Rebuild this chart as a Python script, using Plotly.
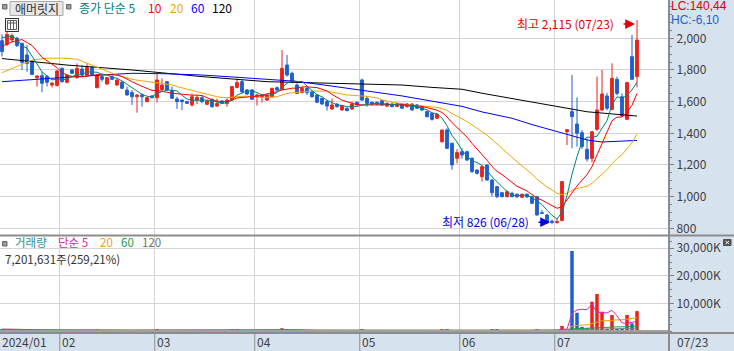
import plotly.graph_objects as go
import pandas as pd

# ======================= DATA =======================
month_labels = ["2024/01", "02", "03", "04", "05", "06", "07"]
month_start_idx = [0, 12, 31, 51, 72, 92, 111]
last_date_label = "07/23"
high_date = "07/23"
low_date = "06/28"

opens = [1985, 1962, 1990, 2000, 1968, 1895, 1857, 1751, 1764, 1758, 1705, 1701,
         1810, 1722, 1800, 1751, 1806, 1768, 1815, 1688, 1758, 1711, 1758, 1705, 1722, 1673, 1657, 1631, 1642, 1600, 1636,
         1625, 1674, 1726, 1669, 1617, 1610, 1600, 1579, 1610, 1625, 1583, 1615, 1572, 1604, 1589, 1610, 1690, 1726, 1674, 1674,
         1631, 1631, 1610, 1631, 1688, 1678, 1831, 1779, 1705, 1657, 1684, 1663, 1642, 1621, 1600, 1554, 1585, 1547, 1558, 1554, 1596,
         1737, 1621, 1596, 1596, 1606, 1572, 1585, 1570, 1585, 1568, 1585, 1579, 1568, 1537, 1526, 1495, 1347, 1421, 1337, 1242,
         1284, 1284, 1242, 1168, 1126, 1200, 1105, 1063, 1025, 1000, 1021, 1015, 996, 1015, 1000, 1000, 898, 884, 845,
         836, 850, 1410, 1537, 1459, 1404, 1299, 1242, 1425, 1547, 1636, 1551, 1741, 1631, 1488, 1884, 1758]
highs = [2025, 2040, 2030, 2010, 1972, 1958, 1862, 1765, 1789, 1768, 1726, 1800,
         1815, 1772, 1805, 1842, 1831, 1842, 1825, 1772, 1768, 1755, 1762, 1741, 1730, 1695, 1674, 1646, 1652, 1630, 1640,
         1775, 1747, 1730, 1695, 1631, 1612, 1605, 1652, 1640, 1640, 1610, 1620, 1620, 1608, 1620, 1695, 1747, 1737, 1680, 1680,
         1650, 1648, 1648, 1688, 1695, 1926, 1895, 1789, 1716, 1695, 1695, 1668, 1648, 1625, 1610, 1620, 1590, 1580, 1562, 1600, 1600,
         1745, 1631, 1600, 1600, 1610, 1595, 1590, 1592, 1590, 1592, 1590, 1585, 1575, 1542, 1530, 1525, 1421, 1432, 1340, 1300,
         1305, 1290, 1248, 1172, 1200, 1205, 1110, 1068, 1030, 1040, 1031, 1020, 1018, 1020, 1005, 1003, 915, 890, 855,
         860, 1095, 1423, 1768, 1627, 1420, 1368, 1410, 1758, 1800, 1655, 1842, 1758, 1652, 1725, 2021, 2115]
lows = [1885, 1950, 1975, 1945, 1800, 1789, 1768, 1695, 1659, 1695, 1690, 1697,
        1720, 1716, 1775, 1747, 1764, 1764, 1764, 1685, 1726, 1707, 1735, 1700, 1680, 1638, 1579, 1530, 1568, 1597, 1620,
        1594, 1670, 1670, 1617, 1554, 1547, 1585, 1568, 1585, 1590, 1578, 1562, 1568, 1585, 1568, 1605, 1684, 1652, 1642, 1610,
        1575, 1594, 1605, 1627, 1667, 1674, 1758, 1720, 1648, 1652, 1642, 1625, 1590, 1580, 1543, 1547, 1562, 1543, 1540, 1547, 1575,
        1605, 1568, 1580, 1578, 1575, 1565, 1565, 1565, 1555, 1562, 1545, 1555, 1540, 1500, 1480, 1490, 1340, 1300, 1170, 1210,
        1240, 1225, 1150, 1140, 1095, 1100, 1000, 990, 995, 995, 995, 995, 994, 993, 955, 880, 893, 831, 826,
        830, 845, 1326, 1305, 1316, 1300, 1221, 1215, 1415, 1540, 1545, 1545, 1640, 1505, 1484, 1737, 1690]
closes = [1916, 2025, 2017, 1954, 1848, 1842, 1772, 1762, 1716, 1722, 1716, 1794,
          1726, 1768, 1779, 1810, 1768, 1815, 1768, 1768, 1741, 1751, 1741, 1737, 1684, 1642, 1631, 1642, 1631, 1625, 1625,
          1737, 1705, 1674, 1621, 1600, 1600, 1589, 1631, 1627, 1600, 1604, 1568, 1589, 1589, 1610, 1695, 1720, 1663, 1648, 1615,
          1642, 1642, 1642, 1684, 1674, 1810, 1768, 1726, 1652, 1684, 1657, 1631, 1596, 1585, 1572, 1579, 1568, 1575, 1543, 1585, 1579,
          1610, 1589, 1583, 1583, 1579, 1589, 1568, 1585, 1558, 1585, 1547, 1558, 1547, 1505, 1488, 1520, 1421, 1305, 1200, 1278,
          1263, 1231, 1158, 1147, 1189, 1105, 1025, 1000, 1000, 1031, 1000, 998, 1015, 998, 958, 884, 895, 835, 838,
          842, 1095, 1423, 1505, 1400, 1316, 1238, 1410, 1547, 1648, 1558, 1747, 1652, 1509, 1720, 1741, 1989]
volumes = [600000, 700000, 500000, 450000, 500000, 400000, 350000, 250000, 300000, 250000, 200000, 300000,
           300000, 200000, 150000, 250000, 200000, 250000, 200000, 500000, 200000, 180000, 150000, 160000, 200000, 250000, 220000, 280000, 180000, 150000, 120000,
           500000, 300000, 200000, 200000, 200000, 180000, 150000, 250000, 200000, 150000, 150000, 200000, 150000, 120000, 150000, 450000, 450000, 250000, 150000, 180000,
           150000, 140000, 150000, 250000, 150000, 1000000, 600000, 350000, 250000, 200000, 180000, 200000, 220000, 200000, 250000, 180000, 150000, 160000, 130000, 180000, 140000,
           500000, 200000, 150000, 130000, 150000, 120000, 130000, 120000, 130000, 120000, 150000, 130000, 150000, 200000, 220000, 180000, 500000, 500000, 350000, 250000,
           200000, 250000, 300000, 200000, 250000, 250000, 400000, 400000, 200000, 150000, 150000, 150000, 120000, 150000, 200000, 400000, 250000, 300000, 300000,
           300000, 1800000, 500000, 29000000, 6600000, 1500000, 1000000, 10600000, 13400000, 7000000, 700000, 5800000, 700000, 700000, 5800000, 2778300, 7201631]

ma5_head_x = [0, 1, 2, 3]
ma5_head_y = [2005, 2010, 2012, 1995]
ma10_head_x = [0, 2, 4, 6, 8]
ma10_head_y = [1950, 1978, 1992, 1955, 1880]
ma20_head_x = [0, 3, 6, 9, 12, 15, 18]
ma20_head_y = [1783, 1825, 1862, 1874, 1875, 1868, 1830]
ma60_x = [0, 6, 13, 20, 26, 33, 40, 46, 53, 59, 66, 73, 80, 86, 92, 96, 102, 106, 112, 117, 120, 127]
ma60_y = [1726, 1741, 1754, 1768, 1779, 1776, 1768, 1756, 1742, 1728, 1698, 1668, 1636, 1603, 1570, 1535,
          1495, 1455, 1400, 1358, 1345, 1355]
ma120_x = [0, 13, 26, 40, 53, 66, 80, 86, 92, 96, 102, 106, 112, 117, 127]
ma120_y = [1872, 1831, 1800, 1758, 1726, 1716, 1705, 1690, 1678, 1653, 1621, 1600, 1564, 1536, 1509]

price_ticks = [800, 1000, 1200, 1400, 1600, 1800, 2000]
vol_ticks = [10000000, 20000000, 30000000]
vol_tick_text = ["10,000K", "20,000K", "30,000K"]
lc_text = "LC:140,44"
hc_text = "HC:-6,10"

# ======================= STYLE / GEOMETRY =======================
FONT = "Noto Sans CJK KR"
LAT = "Liberation Sans"
RED = "#e8231b"
BLUE = "#1f5fcf"
C_MA5, C_MA10, C_MA20, C_MA60, C_MA120 = "#008080", "#ff0000", "#f0a800", "#0000ff", "#000000"
C_VMA5, C_VMA20, C_VMA60, C_VMA120 = "#e020c0", "#f0a000", "#14a040", "#808080"
GRID = "#d4d4d4"
PANEL = "#d7e2ef"
DIV = "#8c8c8c"

W, H = 734, 351
PLOT_R = 668
PRICE_BOT = 235
VOL_TOP = 236
VOL_BOT = 333


def px(x):
    return x / W


def py(y):
    return 1 - y / H


def price_at(y):
    return 2000 - (y - 38.3) * 1200 / 190.0


def vol_at(y):
    return (331 - y) * 1e7 / 27.6


def idx_at(x):
    return (x - 2) / 5.0


N = len(closes)
xs = list(range(N))
c = pd.Series(closes, dtype=float)
v = pd.Series(volumes, dtype=float)

ma5_x = ma5_head_x + xs[4:]
ma5_y = ma5_head_y + c.rolling(5).mean().iloc[4:].tolist()
ma10_x = ma10_head_x + xs[9:]
ma10_y = ma10_head_y + c.rolling(10).mean().iloc[9:].tolist()
ma20_x = ma20_head_x + xs[19:]
ma20_y = ma20_head_y + c.rolling(20).mean().iloc[19:].tolist()

fig = go.Figure()

for mx, my, col in [(ma120_x, ma120_y, C_MA120), (ma60_x, ma60_y, C_MA60), (ma20_x, ma20_y, C_MA20),
                    (ma10_x, ma10_y, C_MA10), (ma5_x, ma5_y, C_MA5)]:
    fig.add_trace(go.Scatter(x=mx, y=my, mode="lines", line=dict(color=col, width=1),
                             hoverinfo="skip", xaxis="x", yaxis="y"))

fig.add_trace(go.Candlestick(
    x=xs, open=opens, high=highs, low=lows, close=closes,
    increasing=dict(line=dict(color=RED, width=1), fillcolor=RED),
    decreasing=dict(line=dict(color=BLUE, width=1), fillcolor=BLUE),
    whiskerwidth=0, xaxis="x", yaxis="y", hoverinfo="skip"))

bar_colors = [RED if cl >= op else BLUE for op, cl in zip(opens, closes)]
fig.add_trace(go.Bar(x=xs, y=volumes, marker=dict(color=bar_colors, line=dict(width=0)),
                     width=0.7, xaxis="x2", yaxis="y2", hoverinfo="skip"))
for w_, col in [(120, C_VMA120), (60, C_VMA60), (20, C_VMA20), (5, C_VMA5)]:
    fig.add_trace(go.Scatter(x=xs, y=v.rolling(w_, min_periods=1).mean().tolist(), mode="lines",
                             line=dict(color=col, width=1), hoverinfo="skip", xaxis="x2", yaxis="y2"))

grid_x = [s - 0.45 for s in month_start_idx[1:]]
xcommon = dict(domain=[0, px(PLOT_R)], range=[idx_at(0), idx_at(PLOT_R)], tickmode="array",
               tickvals=grid_x, showticklabels=False, ticks="", showgrid=True, gridcolor=GRID,
               gridwidth=1, zeroline=False, showline=False, fixedrange=True)

fig.update_layout(
    width=W, height=H, margin=dict(l=0, r=0, t=0, b=0, pad=0),
    paper_bgcolor="white", plot_bgcolor="white", showlegend=False, boxgap=0.2,
    font=dict(family=FONT, size=12, color="#404040"),
    xaxis=dict(anchor="y", rangeslider=dict(visible=False), **xcommon),
    xaxis2=dict(anchor="y2", matches="x", **xcommon),
    yaxis=dict(domain=[py(PRICE_BOT), 1], range=[price_at(PRICE_BOT), price_at(0)], side="right",
               anchor="x", tickmode="array", tickvals=price_ticks,
               ticktext=[f"{t:,}" for t in price_ticks], ticks="outside", ticklen=5,
               tickcolor="#808080", showgrid=True, gridcolor=GRID, zeroline=False, showline=False,
               tickfont=dict(family=FONT, size=12, color="#404040"),
               minor=dict(tickmode="linear", tick0=800, dtick=50, ticks="outside", ticklen=3,
                          tickcolor="#808080", showgrid=False)),
    yaxis2=dict(domain=[py(VOL_BOT), py(VOL_TOP)], range=[vol_at(VOL_BOT), vol_at(VOL_TOP)],
                side="right", anchor="x2", tickmode="array", tickvals=vol_ticks, ticktext=vol_tick_text,
                ticks="outside", ticklen=5, tickcolor="#808080", showgrid=True, gridcolor=GRID,
                zeroline=False, showline=False, tickfont=dict(family=FONT, size=12, color="#404040"),
                minor=dict(tickmode="linear", tick0=0, dtick=2500000, ticks="outside", ticklen=3,
                           tickcolor="#808080", showgrid=False)),
)

shapes = []
# side / bottom panels
shapes.append(dict(type="rect", xref="paper", yref="paper", x0=px(PLOT_R), x1=1, y0=0, y1=1,
                   fillcolor=PANEL, line=dict(width=0), layer="below"))
shapes.append(dict(type="rect", xref="paper", yref="paper", x0=0, x1=1, y0=0, y1=py(VOL_BOT),
                   fillcolor=PANEL, line=dict(width=0), layer="below"))
# dividers in the date band
for gx in grid_x:
    shapes.append(dict(type="line", xref="x", yref="paper", x0=gx, x1=gx, y0=0, y1=py(VOL_BOT),
                       line=dict(color="#909090", width=1)))
# volume baseline
shapes.append(dict(type="line", xref="paper", yref="y2", x0=0, x1=px(PLOT_R), y0=0, y1=0,
                   line=dict(color="#a0a0a0", width=2)))
# frame dividers
shapes.append(dict(type="line", xref="paper", yref="paper", x0=px(PLOT_R + 1), x1=px(PLOT_R + 1),
                   y0=0, y1=1, line=dict(color=DIV, width=2)))
shapes.append(dict(type="line", xref="paper", yref="paper", x0=0, x1=1, y0=py(PRICE_BOT + 0.5),
                   y1=py(PRICE_BOT + 0.5), line=dict(color=DIV, width=2)))
shapes.append(dict(type="line", xref="paper", yref="paper", x0=0, x1=1, y0=py(VOL_BOT),
                   y1=py(VOL_BOT), line=dict(color=DIV, width=2)))


def prect(x0, y0, x1, y1, fill, line_col, lw=1):
    return dict(type="rect", xref="paper", yref="paper", x0=px(x0), x1=px(x1), y0=py(y1), y1=py(y0),
                fillcolor=fill, line=dict(color=line_col, width=lw))


def pline(x0, y0, x1, y1, col, lw=1):
    return dict(type="line", xref="paper", yref="paper", x0=px(x0), x1=px(x1), y0=py(y0), y1=py(y1),
                line=dict(color=col, width=lw))


# legend bullets / button / icons
shapes.append(prect(2.5, 4.5, 7, 9, "#9a9a9a", "#6a6a6a"))
shapes.append(prect(10, 1.5, 63, 15.5, "#e8e8e8", "#a8a8a8"))
shapes.append(prect(66.5, 4.5, 71, 9, "#9a9a9a", "#6a6a6a"))
shapes.append(prect(5.5, 18.5, 18.5, 31.5, "#f4f4f4", "#303030"))
shapes.append(prect(7.5, 20.5, 16.5, 29.5, "#ffffff", "#606060"))
shapes.append(pline(7.5, 23, 16.5, 23, "#606060"))
shapes.append(pline(10.5, 20.5, 10.5, 29.5, "#606060"))
shapes.append(pline(13.5, 20.5, 13.5, 29.5, "#606060"))
shapes.append(prect(2.5, 241.5, 7, 246, "#9a9a9a", "#6a6a6a"))
shapes.append(prect(723.5, 239.5, 731, 245.5, "#505050", "#505050"))
shapes.append(pline(725.5, 241, 729, 244, "#ffffff"))
shapes.append(pline(725.5, 244, 729, 241, "#ffffff"))
fig.update_layout(shapes=shapes)

ann = []


def ptext(x, y, text, color, anchor="left", size=12, family=FONT):
    ann.append(dict(xref="paper", yref="paper", x=px(x), y=py(y), text=text, showarrow=False,
                    xanchor=anchor, yanchor="middle", font=dict(family=family, size=size, color=color)))


ptext(36.5, 8.5, "애머릿지", "#303030", anchor="center")
ptext(77, 7.5, "종가 단순 5", C_MA5)
ptext(146, 7.5, "10", C_MA10)
ptext(168, 7.5, "20", C_MA20)
ptext(189, 7.5, "60", C_MA60)
ptext(210, 7.5, "120", C_MA120)
ptext(13, 242, "거래량", "#2f8f8f", size=11.5)
ptext(56, 242, "단순 5", C_VMA5, size=11.5)
ptext(98, 242, "20", C_VMA20, size=11.5)
ptext(119, 242, "60", C_VMA60, size=11.5)
ptext(140, 242, "120", "#707070", size=11.5)
ratio = volumes[-1] / volumes[-2] * 100
ptext(3, 259, f"{volumes[-1]:,}주({ratio:.2f}%)".replace(".", ","), "#303030", size=11.5)
ptext(669, 6, lc_text, "#e00000", family=LAT, size=12)
ptext(669, 20, hc_text, "#1464d2", family=LAT, size=12)

# date labels in the bottom band
for lab, s in zip(month_labels, month_start_idx):
    xpos = idx_at(0) if s == 0 else s - 0.35
    ann.append(dict(xref="x", yref="paper", x=xpos, y=py(341), text=lab, showarrow=False,
                    xanchor="left", yanchor="middle", font=dict(family=FONT, size=12, color="#404040")))
ptext(675, 341, last_date_label, "#404040")

# highest / lowest markers
hi = max(range(N), key=lambda i: highs[i])
lo = min(range(N), key=lambda i: lows[i])
ann.append(dict(xref="x", yref="y", x=hi, y=highs[hi], text=f"최고 {highs[hi]:,} ({high_date})",
                showarrow=False, xanchor="right", yanchor="middle", xshift=-21, yshift=-3,
                font=dict(family=FONT, size=12, color="#e00000")))
ann.append(dict(xref="x", yref="y", x=hi, y=highs[hi], text="", showarrow=True, ax=-15, ay=0,
                arrowhead=2, arrowsize=1.3, arrowwidth=1.5, arrowcolor="#e00000", standoff=2,
                yshift=-4))
ann.append(dict(xref="x", yref="y", x=lo, y=lows[lo], text=f"최저 {lows[lo]:,} ({low_date})",
                showarrow=False, xanchor="right", yanchor="middle", xshift=-21, yshift=3,
                font=dict(family=FONT, size=12, color="#0000e0")))
ann.append(dict(xref="x", yref="y", x=lo, y=lows[lo], text="", showarrow=True, ax=-15, ay=0,
                arrowhead=2, arrowsize=1.3, arrowwidth=1.5, arrowcolor="#0000e0", standoff=2,
                yshift=2))
fig.update_layout(annotations=ann)

fig.write_html("out.html")
